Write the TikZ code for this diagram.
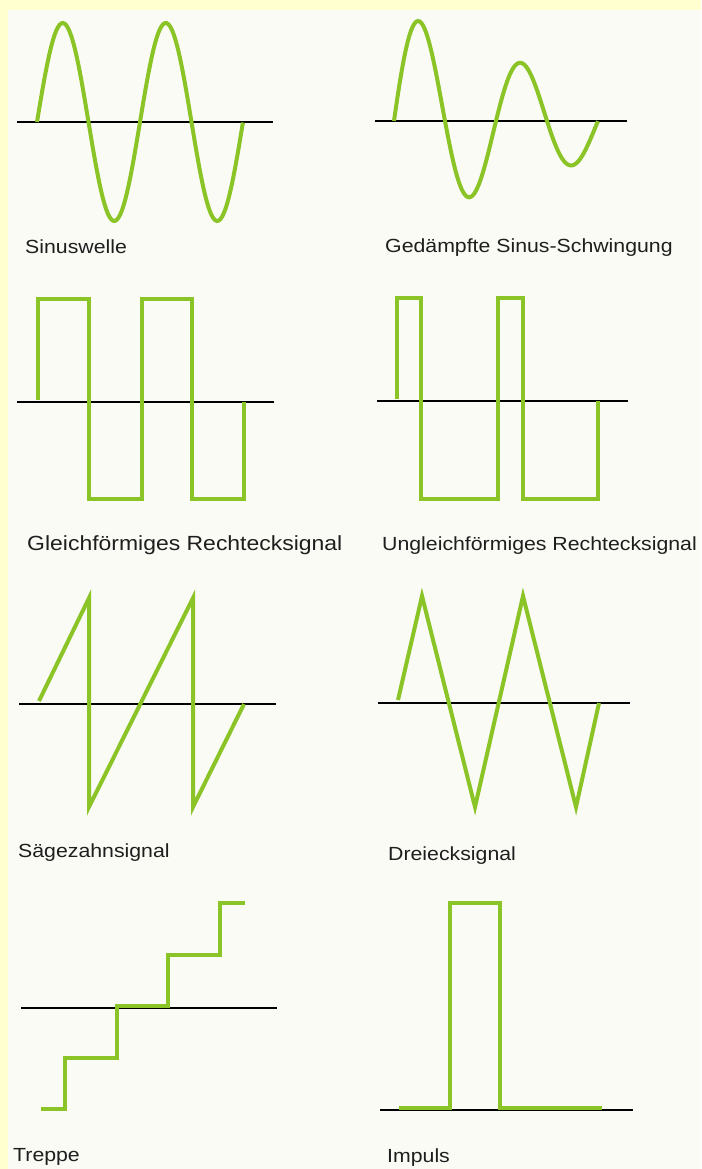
\documentclass[tikz,border=0pt]{standalone}
\usepackage{fontspec}
\setmainfont{Liberation Sans}[FakeStretch=1.12]
\usepackage{xcolor}
\usepackage{tikz}
\usetikzlibrary{positioning}
\definecolor{wavegreen}{RGB}{138, 196, 38}
\definecolor{paperyellow}{RGB}{255, 255, 208}
\definecolor{paperwhite}{RGB}{251, 251, 246}
\definecolor{labelgray}{RGB}{30, 30, 30}

\tikzset{
  wave/.style={draw=wavegreen, line width=4pt, line join=miter},
  axisline/.style={draw=black, line width=1.3pt},
  caption/.style={anchor=base west, inner sep=0pt, text=labelgray,
                  font=\fontsize{19}{22}\selectfont}
}

\begin{document}
\begin{tikzpicture}[x=1pt, y=-1pt]
\useasboundingbox (0,0) rectangle (701,1169);
\fill[paperyellow] (0,0) rectangle (701,1169);
\fill[paperwhite] (8,10) rectangle (701,1169);

% Sinuswelle
\draw[axisline] (17,122) -- (273,122);
\draw[wave] plot[domain=0:4, samples=120, smooth] ({37+51.5*\x}, {122-99*sin(180*\x)});
\node[caption] (sinus) at (25,253) {Sinuswelle};

% gedaempfte Schwingung
\draw[axisline] (375,121) -- (627,121);
\draw[wave] plot[domain=0:4, samples=120, smooth] ({394+51*\x}, {121-114*exp(-0.27*\x)*sin(180*\x)});
\node[caption] (daempf) at (385,252) {Gedämpfte Sinus-Schwingung};

% Rechteck, gleichfoermig
\draw[axisline] (17,402) -- (274,402);
\draw[wave] (38,400) -- (38,299) -- (89,299) -- (89,499) -- (142,499) -- (142,299)
  -- (192,299) -- (192,499) -- (244,499) -- (244,402);
\node[caption, font=\fontsize{20.5}{22}\selectfont] (rechteck) at (27,550) {Gleichförmiges Rechtecksignal};

% Rechteck, ungleichfoermig
\draw[axisline] (377,401) -- (628,401);
\draw[wave] (397,399) -- (397,298) -- (421,298) -- (421,499) -- (498,499) -- (498,298)
  -- (523,298) -- (523,499) -- (598,499) -- (598,401);
\node[caption] (ungleich) at (382,550) {Ungleichförmiges Rechtecksignal};

% Saegezahn
\draw[axisline] (19,704) -- (276,704);
\draw[wave] (39,701) -- (89,598) -- (89,807) -- (193,598) -- (193,807) -- (244,704);
\node[caption] (saege) at (18,857) {Sägezahnsignal};

% Dreieck
\draw[axisline] (378,703) -- (630,703);
\draw[wave] (398,700) -- (422,596) -- (475,807) -- (523,596) -- (576,807) -- (599,703);
\node[caption] (dreieck) at (388,860) {Dreiecksignal};

% Treppe
\draw[axisline] (21,1008) -- (277,1008);
\draw[wave] (41,1109) -- (65,1109) -- (65,1058) -- (117,1058) -- (117,1006) -- (168,1006)
  -- (168,955) -- (220,955) -- (220,903) -- (245,903);
\node[caption] (treppe) at (13,1161) {Treppe};

% Impuls
\draw[axisline] (380,1110) -- (633,1110);
\draw[wave] (399,1108) -- (450,1108) -- (450,903) -- (500,903) -- (500,1108) -- (602,1108);
\node[caption] (impuls) at (387,1162) {Impuls};
\end{tikzpicture}
\end{document}
